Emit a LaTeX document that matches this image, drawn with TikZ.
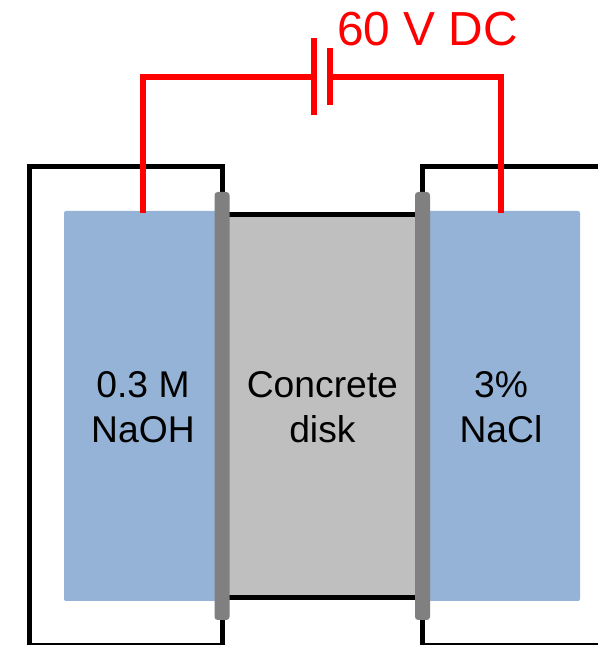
\documentclass[tikz,border=0pt]{standalone}
\usepackage{fontspec}
\setmainfont{Liberation Sans}
\usetikzlibrary{calc}
\definecolor{bath}{HTML}{95B3D7}
\definecolor{concrete}{HTML}{BFBFBF}
\definecolor{seal}{HTML}{808080}
\newcommand{\lbl}{\fontsize{26.5}{32.3}\selectfont}
\tikzset{
  tank/.style={draw=black,line width=0.125cm,inner sep=0pt,outer sep=0pt},
  bathbox/.style={fill=bath,rounded corners=0.05cm,inner sep=0pt,outer sep=0pt,minimum width=3.95cm,minimum height=9.75cm},
  lbltext/.style={inner sep=0pt,align=center,font=\lbl},
  sealbar/.style={fill=seal,rounded corners=0.08cm,inner sep=0pt,outer sep=0pt,minimum width=0.375cm,minimum height=10.7cm},
  plate/.style={fill=red,inner sep=0pt,outer sep=0pt,minimum width=0.15cm},
  wire/.style={draw=red,line width=0.15cm}
}

\begin{document}
\begin{tikzpicture}
      \useasboundingbox (0,0) rectangle (14.95,16.125);

      \node at (3.15,5.98)
      [tank,minimum width=4.8cm,minimum height=11.9875cm, name=tankl] {};
      \node at (13.28,5.98)
      [tank,minimum width=5.4375cm,minimum height=11.9875cm, name=tankr] {};

      \node at (3.575,5.975) [bathbox, name=naoh] {};
      \node at (12.525,5.975) [bathbox, name=nacl] {};

      \node at (8.05,5.98)
      [fill=concrete,inner sep=0pt,outer sep=0pt,minimum width=5cm,minimum height=9.5875cm, name=disk] {};
      \draw [line width=0.125cm] (disk.north west) -- (disk.north east);
      \draw [line width=0.125cm] (disk.south west) -- (disk.south east);

      \node at (3.575,5.94) [lbltext, name=naohtxt] {0.3 M\\NaOH};
      \node at (12.525,5.94) [lbltext, name=nacltxt] {3\%\\NaCl};
      \node at (8.06,5.94) [lbltext, name=disktxt] {Concrete\\disk};

      % battery
      \node at (7.84,14.2) [plate,minimum height=1.925cm, name=platel] {};
      \node at (8.24,14.2) [plate,minimum height=1.425cm, name=plater] {};
      \node at (10.69,15.41) [text=red,inner sep=0pt,font=\fontsize{34}{40}\selectfont, name=volt] {60 V DC};

      \draw [wire] ([yshift=-0.05cm]naoh.north) |- (platel.center);
      \draw [wire] ([yshift=-0.05cm]nacl.north) |- (plater.center);

      \node at (5.55,5.975) [sealbar, name=seall] {};
      \node at (10.5625,5.975) [sealbar, name=sealr] {};
\end{tikzpicture}
\end{document}
